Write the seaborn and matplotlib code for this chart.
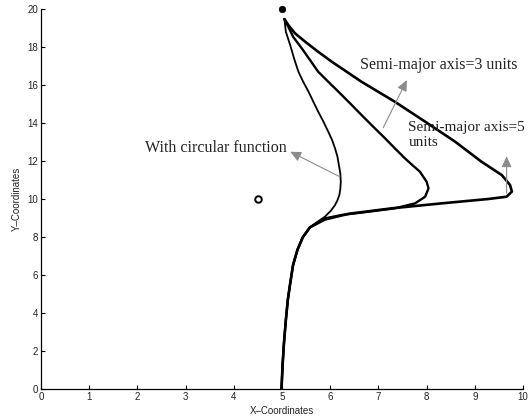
import matplotlib
matplotlib.use("Agg")
import matplotlib.pyplot as plt
import seaborn as sns
import pandas as pd

# Trajectory traced with the circular guidance function
circ_x = [4.99, 5.01, 5.04, 5.08, 5.12, 5.17, 5.23, 5.32, 5.43, 5.58, 5.68, 5.89, 6.01,
          6.10, 6.15, 6.19, 6.21, 6.22, 6.21, 6.18, 6.15, 6.10, 6.04, 5.96, 5.86, 5.75,
          5.65, 5.55, 5.44, 5.34, 5.25, 5.17, 5.08, 5.05]
circ_y = [0.00, 1.17, 2.40, 3.63, 4.68, 5.56, 6.53, 7.32, 7.98, 8.51, 8.70, 9.07, 9.37,
          9.68, 9.93, 10.21, 10.53, 10.91, 11.35, 11.79, 12.23, 12.67, 13.10, 13.54, 14.07,
          14.60, 15.12, 15.65, 16.17, 16.70, 17.40, 18.10, 18.80, 19.47]

# Trajectory with an elliptical function, semi-major axis = 3 units
ell3_x = [4.99, 5.01, 5.04, 5.08, 5.12, 5.17, 5.23, 5.32, 5.43, 5.58, 5.89, 6.24, 6.79,
          7.34, 7.76, 7.97, 8.04, 8.00, 7.86, 7.72, 7.55, 7.34, 7.14, 6.89, 6.65, 6.41,
          6.17, 5.96, 5.75, 5.58, 5.41, 5.23, 5.13, 5.05]
ell3_y = [0.00, 1.17, 2.40, 3.63, 4.68, 5.56, 6.53, 7.32, 7.98, 8.51, 8.98, 9.16, 9.33,
          9.51, 9.77, 10.12, 10.56, 10.91, 11.44, 11.75, 12.14, 12.67, 13.19, 13.81, 14.42,
          15.04, 15.65, 16.17, 16.70, 17.32, 17.93, 18.54, 19.07, 19.47]

# Trajectory with an elliptical function, semi-major axis = 5 units
ell5_x = [4.99, 5.01, 5.04, 5.08, 5.12, 5.17, 5.23, 5.32, 5.43, 5.58, 5.89, 6.38, 7.28,
          8.31, 9.28, 9.66, 9.77, 9.73, 9.56, 9.14, 8.59, 7.97, 7.34, 6.65, 6.34, 6.03,
          5.75, 5.48, 5.27, 5.13, 5.05]
ell5_y = [0.00, 1.17, 2.40, 3.63, 4.68, 5.56, 6.53, 7.32, 7.98, 8.51, 8.92, 9.22, 9.51,
          9.77, 10.00, 10.12, 10.39, 10.74, 11.26, 11.96, 13.02, 14.07, 15.12, 16.17, 16.70,
          17.23, 17.75, 18.28, 18.72, 19.16, 19.47]

# Goal (filled) and obstacle (open) positions
goal_x, goal_y = [5.0], [20.0]
obst_x, obst_y = [4.5], [10.0]

x_ticks = list(range(0, 11))
y_ticks = list(range(0, 21, 2))

sns.set_style("ticks")
plt.rcParams["font.family"] = ["Liberation Sans", "DejaVu Sans"]

fig = plt.figure(figsize=(5.32, 4.19), dpi=100)
ax = fig.add_axes([41 / 532, 1 - 389 / 419, 482 / 532, 380 / 419])

curves = [
    (circ_x, circ_y, 1.3),
    (ell3_x, ell3_y, 1.7),
    (ell5_x, ell5_y, 1.9),
]
for cx, cy, lw in curves:
    df = pd.DataFrame({"x": cx, "y": cy})
    sns.lineplot(data=df, x="x", y="y", sort=False, estimator=None,
                 color="black", lw=lw, ax=ax)
for line in ax.lines:
    line.set_solid_joinstyle("round")
    line.set_solid_capstyle("round")

sns.scatterplot(x=goal_x, y=goal_y, color="black", s=22, edgecolor="black",
                linewidth=0.5, ax=ax, clip_on=False, zorder=5)
sns.scatterplot(x=obst_x, y=obst_y, facecolor="white", s=22, edgecolor="black",
                linewidth=1.4, ax=ax, zorder=5)

text_kw = dict(family=["Liberation Serif", "DejaVu Serif"], fontsize=11.5,
               color="#222222")
arrow_kw = dict(arrowstyle="-|>,head_length=0.65,head_width=0.3",
                color="#8c8c8c", lw=0.8, shrinkA=0, shrinkB=0)

ax.annotate("", xy=(5.17, 12.49), xytext=(6.2, 11.17), arrowprops=arrow_kw)
ax.text(2.16, 12.68, "With circular function", va="center", ha="left", **text_kw)

ax.annotate("", xy=(7.59, 16.26), xytext=(7.1, 13.75), arrowprops=arrow_kw)
ax.text(6.62, 17.05, "Semi-major axis=3 units", va="center", ha="left", **text_kw)

ax.annotate("", xy=(9.66, 12.25), xytext=(9.66, 10.3), arrowprops=arrow_kw)
label5_kw = dict(text_kw, fontsize=11)
ax.text(7.62, 13.38, "Semi-major axis=5\nunits", va="center", ha="left",
        linespacing=1.25, clip_on=False, **label5_kw)

ax.set_xlim(0, 10)
ax.set_ylim(0, 20)
ax.set_xticks(x_ticks)
ax.set_yticks(y_ticks)
ax.set_xticklabels([str(t) for t in x_ticks])
ax.set_yticklabels([str(t) for t in y_ticks])
ax.tick_params(direction="in", length=3, width=0.8, labelsize=7, pad=2,
               colors="black", labelcolor="#222222")
ax.set_xlabel("X\u2013Coordinates", fontsize=7, labelpad=3, color="#222222")
ax.set_ylabel("Y\u2013Coordinates", fontsize=7, labelpad=4, color="#222222")
sns.despine(ax=ax)
for side in ("left", "bottom"):
    ax.spines[side].set_linewidth(0.9)
    ax.spines[side].set_color("black")

fig.savefig("out.png", dpi=100)
